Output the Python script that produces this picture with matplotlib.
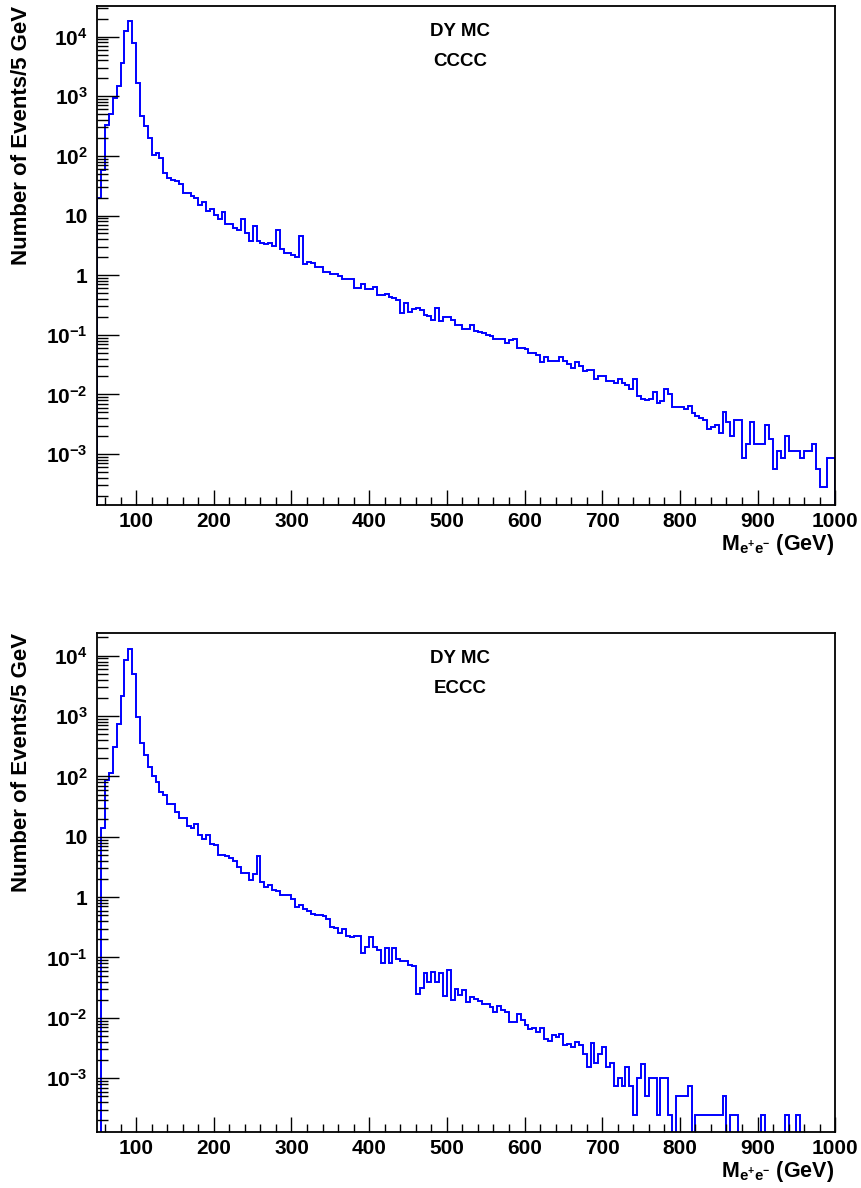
import numpy as np
import matplotlib
matplotlib.use("Agg")
import matplotlib.pyplot as plt
from matplotlib.ticker import FixedLocator, FixedFormatter, LogLocator, MultipleLocator, NullFormatter

plt.rcParams['font.family'] = ['Liberation Sans', 'DejaVu Sans']
plt.rcParams['font.weight'] = 'bold'
plt.rcParams['mathtext.fontset'] = 'custom'
plt.rcParams['mathtext.rm'] = 'Liberation Sans:bold'
plt.rcParams['mathtext.bf'] = 'Liberation Sans:bold'
plt.rcParams['mathtext.it'] = 'Liberation Sans:bold'

# ---------------- data ----------------
bin_low = 50
bin_high = 1000
bin_width = 5

titles = [["DY MC", "CCCC"], ["DY MC", "ECCC"]]

counts_cccc = [
    # 50 .. 315
    20, 58, 335, 510, 935, 1470, 3600, 12300, 18000, 7800,
    1700, 473, 323, 200, 105, 112, 92, 52, 43, 40,
    37.6, 34.4, 24, 24, 21, 19.8, 15.3, 17, 11.8, 13.1,
    10.4, 8.6, 11.5, 7.1, 7.1, 6.2, 5.8, 8.6, 5.1, 3.7,
    6.8, 3.7, 3.5, 3.27, 3.5, 3.06, 5.8, 2.7, 2.37, 2.37,
    2.22, 2.03, 4.5, 1.55,
    # 320 .. 640
    1.65, 1.57, 1.36, 1.36, 1.12, 1.12, 1.03, 1.03, 0.96, 0.86,
    0.86, 0.86, 0.60, 0.60, 0.70, 0.59, 0.59, 0.64, 0.46, 0.46,
    0.49, 0.43, 0.41, 0.38, 0.235, 0.34, 0.24, 0.27, 0.28, 0.26,
    0.216, 0.205, 0.18, 0.285, 0.17, 0.20, 0.20, 0.175, 0.145, 0.145,
    0.123, 0.123, 0.144, 0.118, 0.112, 0.106, 0.10, 0.094, 0.086, 0.084,
    0.084, 0.074, 0.082, 0.084, 0.061, 0.061, 0.058, 0.050, 0.050, 0.046,
    0.035, 0.042, 0.037, 0.037, 0.037,
    # 645 .. 995
    0.043, 0.036, 0.033, 0.028, 0.035, 0.030, 0.0247, 0.0257, 0.0257, 0.0184,
    0.0204, 0.0204, 0.0168, 0.0168, 0.0153, 0.0184, 0.0153, 0.0142, 0.0125, 0.0179,
    0.0094, 0.0083, 0.0081, 0.0085, 0.011, 0.0071, 0.0078, 0.0122, 0.010, 0.0062,
    0.0062, 0.0062, 0.0058, 0.0064, 0.0048, 0.0043, 0.0041, 0.0037, 0.0026, 0.0029,
    0.0031, 0.0023, 0.0050, 0.0035, 0.0020, 0.0038, 0.0038, 0.00087, 0.00146, 0.0035,
    0.00146, 0.00146, 0.00146, 0.0031, 0.00177, 0.00057, 0.00113, 0.00087, 0.0020, 0.00113,
    0.00113, 0.00113, 0.00087, 0.00113, 0.00113, 0.00146, 0.00057, 0.000285, 0.000285, 0.00087,
    0.00087,
]

counts_eccc = [
    # 50 .. 310
    0, 14.1, 86, 115, 305, 731, 2180, 8400, 12650, 5050,
    966, 355, 229, 143, 103, 81, 55, 48.5, 35.3, 34.4,
    25.7, 20.4, 20.4, 15.1, 14.1, 16.1, 10.5, 9.3, 10.5, 7.5,
    7.2, 5.05, 5.05, 4.73, 4.44, 3.96, 3.15, 2.5, 2.5, 1.89,
    2.44, 4.73, 1.78, 1.47, 1.56, 1.29, 1.26, 1.09, 1.09, 1.09,
    0.92, 0.68, 0.75,
    # 315 .. 640
    0.64, 0.59, 0.53, 0.51, 0.51, 0.48, 0.43, 0.32, 0.306, 0.25,
    0.30, 0.23, 0.217, 0.23, 0.23, 0.118, 0.152, 0.217, 0.152, 0.134,
    0.082, 0.143, 0.082, 0.143, 0.095, 0.089, 0.089, 0.074, 0.072, 0.025,
    0.031, 0.055, 0.039, 0.057, 0.039, 0.055, 0.0228, 0.062, 0.0198, 0.030,
    0.0243, 0.0294, 0.0186, 0.022, 0.0207, 0.0193, 0.017, 0.017, 0.015, 0.0124,
    0.0156, 0.0137, 0.0124, 0.0085, 0.0085, 0.0116, 0.0092, 0.0077, 0.0065, 0.0067,
    0.0058, 0.0067, 0.0045, 0.0041, 0.0051, 0.0048,
    # 645 .. 995
    0.0054, 0.0036, 0.0037, 0.0033, 0.0040, 0.0036, 0.0025, 0.00152, 0.0038, 0.00177,
    0.0025, 0.0033, 0.00152, 0.00177, 0.00075, 0.00101, 0.00075, 0.00152, 0.00075, 0.00025,
    0.00101, 0.00172, 0.0005, 0.00101, 0.00101, 0.00025, 0.00101, 0.00101, 0.00025, 0,
    0.0005, 0.0005, 0.0005, 0.00075, 0, 0.00025, 0.00025, 0.00025, 0.00025, 0.00025,
    0.00025, 0.00025, 0.0005, 0, 0.00025, 0.00025, 0, 0, 0, 0,
    0, 0, 0.00025, 0, 0, 0, 0, 0, 0.00025, 0,
    0, 0.00025, 0, 0, 0, 0, 0, 0, 0, 0,
    0,
]

ylims = [(1.4e-4, 3.3e4), (1.3e-4, 2.4e4)]
y_major = [1e-3, 1e-2, 1e-1, 1, 10, 1e2, 1e3, 1e4]
y_major_labels = [r'$\mathbf{10^{-3}}$', r'$\mathbf{10^{-2}}$', r'$\mathbf{10^{-1}}$',
                  '1', '10', r'$\mathbf{10^{2}}$', r'$\mathbf{10^{3}}$', r'$\mathbf{10^{4}}$']
x_major = [100, 200, 300, 400, 500, 600, 700, 800, 900, 1000]
x_major_labels = [str(v) for v in x_major]

ylabel = "Number of Events/5 GeV"
xlabel = r"M$_{\mathbf{e^{+}e^{-}}}$ (GeV)"

# ---------------- figure ----------------
W, H = 862, 1188
fig = plt.figure(figsize=(W / 100, H / 100), dpi=100)

edges = np.arange(bin_low, bin_high + bin_width, bin_width)

panels = [
    dict(counts=counts_cccc, top=5.7, bottom=505.0, ylim=ylims[0], title=titles[0]),
    dict(counts=counts_eccc, top=632.7, bottom=1131.7, ylim=ylims[1], title=titles[1]),
]

ax_left, ax_right = 97.3, 835.2
fs_tick = 15
fs_title = 13.5
fs_ylab = 16
fs_xlab = 15.5

for p in panels:
    vals = np.asarray(p['counts'], dtype=float)
    assert len(vals) == len(edges) - 1, len(vals)
    ax = fig.add_axes([ax_left / W, 1 - p['bottom'] / H,
                       (ax_right - ax_left) / W, (p['bottom'] - p['top']) / H])
    ax.set_yscale('log')
    floor = p['ylim'][0] * 1e-3
    ax.stairs(np.clip(vals, floor, None), edges, baseline=floor,
              color='#0000ff', lw=1.4)
    ax.set_xlim(bin_low, bin_high)
    ax.set_ylim(*p['ylim'])

    ax.yaxis.set_major_locator(FixedLocator(y_major))
    ax.yaxis.set_major_formatter(FixedFormatter(y_major_labels))
    ax.yaxis.set_minor_locator(LogLocator(base=10, subs=np.arange(2, 10), numticks=30))
    ax.yaxis.set_minor_formatter(NullFormatter())
    ax.xaxis.set_major_locator(FixedLocator(x_major))
    ax.xaxis.set_major_formatter(FixedFormatter(x_major_labels))
    ax.xaxis.set_minor_locator(MultipleLocator(20))

    ax.tick_params(axis='both', which='both', direction='in', top=False, right=False,
                   colors='black', width=1.0, labelsize=fs_tick)
    ax.tick_params(axis='y', which='major', length=15.5, pad=7)
    ax.tick_params(axis='y', which='minor', length=8)
    ax.tick_params(axis='x', which='major', length=11, pad=5)
    ax.tick_params(axis='x', which='minor', length=5.5)
    for lab in ax.get_xticklabels() + ax.get_yticklabels():
        lab.set_fontweight('bold')
    for s in ax.spines.values():
        s.set_linewidth(1.3)
        s.set_color('black')

    # titles inside the frame
    fig.text(460 / W, 1 - (p['top'] + 26) / H, p['title'][0], ha='center', va='center',
             fontsize=fs_title, fontweight='bold')
    fig.text(460 / W, 1 - (p['top'] + 56) / H, p['title'][1], ha='center', va='center',
             fontsize=fs_title, fontweight='bold')

    # y label (aligned to top of frame)
    fig.text(22 / W, 1 - (p['top'] + 0) / H, ylabel, rotation=90, ha='center', va='top',
             fontsize=fs_ylab, fontweight='bold')
    # x label (right aligned under the axis)
    fig.text(834 / W, 1 - (p['bottom'] + 45) / H, xlabel, ha='right', va='baseline',
             fontsize=fs_xlab, fontweight='bold')

fig.savefig('out.png', dpi=100)
